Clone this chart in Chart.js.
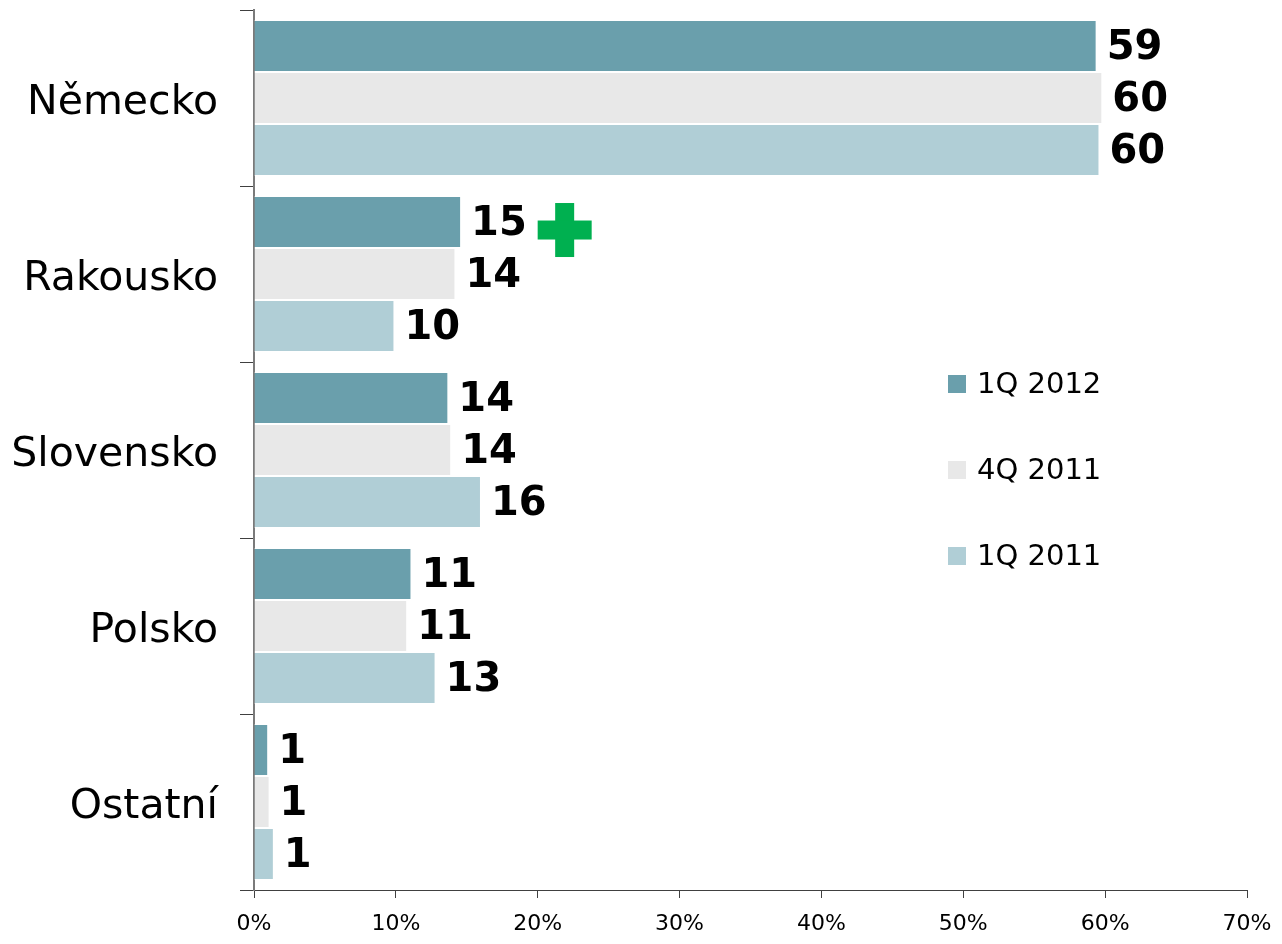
<!DOCTYPE html>
<html>
<head>
<meta charset="utf-8">
<script src="https://cdn.jsdelivr.net/npm/chart.js@4/dist/chart.umd.min.js"></script>
<style>
  html, body { margin: 0; padding: 0; background: #fff; }
  #wrap { width: 1282px; height: 944px; position: relative; }
</style>
</head>
<body>
<div id="wrap"><canvas id="chart"></canvas></div>
<script>
const categories = ['Německo', 'Rakousko', 'Slovensko', 'Polsko', 'Ostatní'];
const seriesNames = ['1Q 2012', '4Q 2011', '1Q 2011'];
const q1_2012 = [59.4, 14.6, 13.7, 11.1, 1.0];
const q4_2011 = [59.8, 14.2, 13.9, 10.8, 1.1];
const q1_2011 = [59.6, 9.9, 16.0, 12.8, 1.4];
const xTicks = [0, 10, 20, 30, 40, 50, 60, 70];
const colors = ['#6a9fac', '#e8e8e8', '#b0ced6'];

const FONT = '"DejaVu Sans", Verdana, sans-serif';

// value labels at bar ends
const valueLabels = {
    id: 'valueLabels',
    afterDatasetsDraw(chart) {
        const ctx = chart.ctx;
        ctx.save();
        ctx.font = 'bold 40px ' + FONT;
        ctx.fillStyle = '#000';
        ctx.textBaseline = 'middle';
        ctx.textAlign = 'left';
        chart.data.datasets.forEach((ds, i) => {
            chart.getDatasetMeta(i).data.forEach((bar, j) => {
                ctx.fillText(String(Math.round(ds.data[j])), bar.x + 10, bar.y + 3);
            });
        });
        ctx.restore();
    }
};

// green plus next to Rakousko 1Q 2012
const plusMark = {
    id: 'plusMark',
    afterDatasetsDraw(chart) {
        const bar = chart.getDatasetMeta(0).data[1];
        const x = chart.scales.x.getPixelForValue(21.9);
        const y = bar.y + 8;
        const half = 27, arm = 9.5;
        const ctx = chart.ctx;
        ctx.save();
        ctx.fillStyle = '#00b050';
        ctx.fillRect(x - arm, y - half, arm * 2, half * 2);
        ctx.fillRect(x - half, y - arm, half * 2, arm * 2);
        ctx.restore();
    }
};

// legend on the right, stacked with wide spacing
const sideLegend = {
    id: 'sideLegend',
    afterDraw(chart) {
        const ctx = chart.ctx;
        const area = chart.chartArea;
        const x = area.left + 694;
        ctx.save();
        ctx.font = '29px ' + FONT;
        ctx.textBaseline = 'middle';
        ctx.textAlign = 'left';
        seriesNames.forEach((name, i) => {
            const y = 384 + i * 86;
            ctx.fillStyle = colors[i];
            ctx.fillRect(x, y - 9, 18, 18);
            ctx.fillStyle = '#000';
            ctx.fillText(name, x + 29, y + 1);
        });
        ctx.restore();
    }
};

new Chart(document.getElementById('chart'), {
    type: 'bar',
    data: {
        labels: categories,
        datasets: [q1_2012, q4_2011, q1_2011].map((d, i) => ({
            label: seriesNames[i],
            data: d,
            backgroundColor: colors[i],
            borderColor: '#ffffff',
            borderWidth: 1,
            borderSkipped: 'start',
            categoryPercentage: 0.886,
            barPercentage: 1
        }))
    },
    options: {
        indexAxis: 'y',
        responsive: true,
        maintainAspectRatio: false,
        animation: false,
        layout: { padding: { top: 10, right: 35, left: 0, bottom: 0 } },
        plugins: {
            legend: { display: false },
            tooltip: { enabled: false }
        },
        scales: {
            x: {
                min: 0,
                max: 70,
                afterBuildTicks: scale => { scale.ticks = xTicks.map(v => ({ value: v })); },
                afterFit: scale => {
                    scale.height = 54;
                    scale.paddingLeft = 0;
                    scale.paddingRight = 0;
                },
                border: { display: true, color: '#404040', width: 1 },
                grid: { drawOnChartArea: false, drawTicks: true, tickLength: 8, color: '#404040' },
                ticks: {
                    padding: 13,
                    color: '#000',
                    font: { family: FONT, size: 22 },
                    callback: v => v + '%'
                }
            },
            y: {
                afterFit: scale => {
                    scale.width = 254;
                    scale.paddingTop = 0;
                    scale.paddingBottom = 0;
                },
                border: { display: true, color: '#7a7a7a', width: 2 },
                grid: { offset: true, drawOnChartArea: false, drawTicks: true, tickLength: 14, color: '#404040' },
                ticks: {
                    padding: 22,
                    labelOffset: 5,
                    color: '#000',
                    font: { family: FONT, size: 41 }
                }
            }
        }
    },
    plugins: [valueLabels, plusMark, sideLegend]
});
</script>
</body>
</html>
